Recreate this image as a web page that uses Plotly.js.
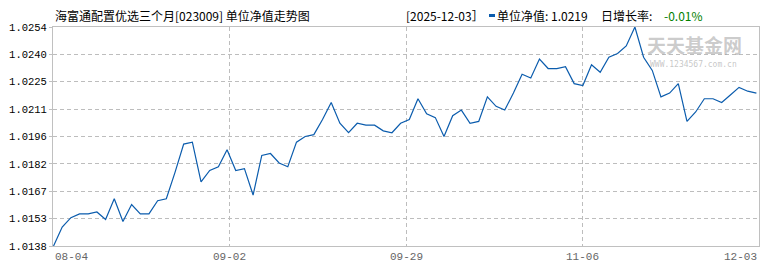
<!DOCTYPE html>
<html>
<head>
<meta charset="utf-8">
<script src="https://cdn.plot.ly/plotly-3.0.1.min.js"></script>
<style>html,body{margin:0;padding:0;background:#fff;}#chart{width:770px;height:270px;}</style>
</head>
<body>
<div id="chart"></div>
<script>
// Unit NAV, one value per trading day from 2025-08-04 to 2025-12-03
const navValues = [
  1.0138, 1.0148, 1.0153, 1.0155, 1.0155, 1.0156, 1.0152, 1.0163, 1.0151, 1.0160,
  1.0155, 1.0155, 1.0162, 1.0163, 1.0177, 1.0192, 1.0193, 1.0172, 1.0178, 1.0180,
  1.0189, 1.0178, 1.0179, 1.0165, 1.0186, 1.0187, 1.0182, 1.0180, 1.0193, 1.0196,
  1.0197, 1.0205, 1.0214, 1.0203, 1.0198, 1.0203, 1.0202, 1.0202, 1.0199, 1.0198,
  1.0203, 1.0205, 1.0216, 1.0208, 1.0206, 1.0196, 1.0207, 1.0210, 1.0203, 1.0204,
  1.0217, 1.0212, 1.0210, 1.0219, 1.0229, 1.0227, 1.0237, 1.0232, 1.0232, 1.0233,
  1.0224, 1.0223, 1.0234, 1.0230, 1.0238, 1.0240, 1.0244, 1.0254, 1.0238, 1.0231,
  1.0217, 1.0219, 1.0224, 1.0204, 1.0209, 1.0216, 1.0216, 1.0214, 1.0218, 1.0222,
  1.0220, 1.0219
];
const xTickLabels = ['08-04', '09-02', '09-29', '11-06', '12-03'];
const yTickLabels = ['1.0138', '1.0153', '1.0167', '1.0182', '1.0196', '1.0211', '1.0225', '1.0240', '1.0254'];
const fundTitle = '海富通配置优选三个月[023009] 单位净值走势图';
const lastDate = '2025-12-03';

const n = navValues.length;
const xIdx = navValues.map((_, i) => i);
const xr = [-0.06, n - 1 + 0.3];
const yr = [parseFloat(yTickLabels[0]), parseFloat(yTickLabels[yTickLabels.length - 1])];
const yTickVals = yTickLabels.map((_, k) => yr[0] + k * (yr[1] - yr[0]) / (yTickLabels.length - 1));
const xGridVals = xTickLabels.map((_, k) => xr[0] + k * (xr[1] - xr[0]) / (xTickLabels.length - 1));

const lastVal = navValues[n - 1];
const prevVal = navValues[n - 2];
const chg = (lastVal / prevVal - 1) * 100;

const W = 770, H = 270, L = 53, R = 11, T = 27, B = 24;
const pw = W - L - R, ph = H - T - B;
const px = X => (X - L) / pw;
const py = Y => (H - B - Y) / ph;

const cjk = '"Noto Sans CJK SC", "Noto Sans", sans-serif';
const headY = py(15);

const annotations = [
  {text: fundTitle, xref: 'paper', yref: 'paper', x: px(53), y: headY, xanchor: 'left', yanchor: 'middle', showarrow: false, font: {family: cjk, size: 12, color: '#000'}},
  {text: '[' + lastDate + '］', xref: 'paper', yref: 'paper', x: px(404), y: headY, xanchor: 'left', yanchor: 'middle', showarrow: false, font: {family: cjk, size: 12, color: '#000'}},
  {text: '单位净值: ' + lastVal.toFixed(4), xref: 'paper', yref: 'paper', x: px(495), y: headY, xanchor: 'left', yanchor: 'middle', showarrow: false, font: {family: cjk, size: 12, color: '#000'}},
  {text: '日增长率: ', xref: 'paper', yref: 'paper', x: px(599), y: headY, xanchor: 'left', yanchor: 'middle', showarrow: false, font: {family: cjk, size: 12, color: '#000'}},
  {text: chg.toFixed(2) + '%', xref: 'paper', yref: 'paper', x: px(662), y: headY, xanchor: 'left', yanchor: 'middle', showarrow: false, font: {family: cjk, size: 12, color: '#008000'}},
  {text: '天天基金网', xref: 'paper', yref: 'paper', x: px(694), y: py(44), xanchor: 'center', yanchor: 'middle', showarrow: false, font: {family: cjk, size: 19, color: 'rgba(160,160,160,0.55)', weight: 'bold'}},
  {text: 'WWW.1234567.com.cn', xref: 'paper', yref: 'paper', x: px(693), y: py(64), xanchor: 'center', yanchor: 'middle', showarrow: false, font: {family: '"DejaVu Sans Mono", monospace', size: 8, color: 'rgba(150,150,150,0.55)'}}
];
const anchors = ['left', 'center', 'center', 'center', 'right'];
xTickLabels.forEach((lab, k) => {
  annotations.push({text: lab, xref: 'x', yref: 'paper', x: xGridVals[k], y: py(257), xanchor: anchors[k], yanchor: 'middle', showarrow: false,
    font: {family: '"Liberation Sans Narrow", "Liberation Mono", monospace', size: 11, color: '#666'}});
});

const trace = {
  x: xIdx, y: navValues, type: 'scatter', mode: 'lines',
  line: {color: '#0b5cad', width: 1.2}, hoverinfo: 'skip'
};

const layout = {
  width: W, height: H,
  margin: {l: L, r: R, t: T, b: B, pad: 0},
  paper_bgcolor: '#fff', plot_bgcolor: '#fff',
  showlegend: false,
  xaxis: {
    range: xr, tickmode: 'array', tickvals: xGridVals, showticklabels: false,
    showgrid: true, gridcolor: '#bdbdbd', griddash: '4px,3px', gridwidth: 1,
    showline: true, linecolor: '#c0c0c0', linewidth: 1, mirror: true, zeroline: false,
    ticks: ''
  },
  yaxis: {
    range: yr, tickmode: 'array', tickvals: yTickVals, ticktext: yTickLabels,
    showgrid: true, gridcolor: '#bdbdbd', griddash: '4px,3px', gridwidth: 1,
    showline: true, linecolor: '#c0c0c0', linewidth: 1, mirror: true, zeroline: false,
    ticks: 'outside', ticklen: 3, tickcolor: '#c0c0c0',
    tickfont: {family: '"Liberation Mono", monospace', size: 10.5, color: '#000'}
  },
  shapes: [
    {type: 'rect', xref: 'paper', yref: 'paper', x0: px(489), x1: px(495), y0: py(17), y1: py(14), fillcolor: '#0b5cad', line: {width: 0}}
  ],
  annotations: annotations
};

Plotly.newPlot('chart', [trace], layout, {staticPlot: true, displayModeBar: false});
</script>
</body>
</html>
